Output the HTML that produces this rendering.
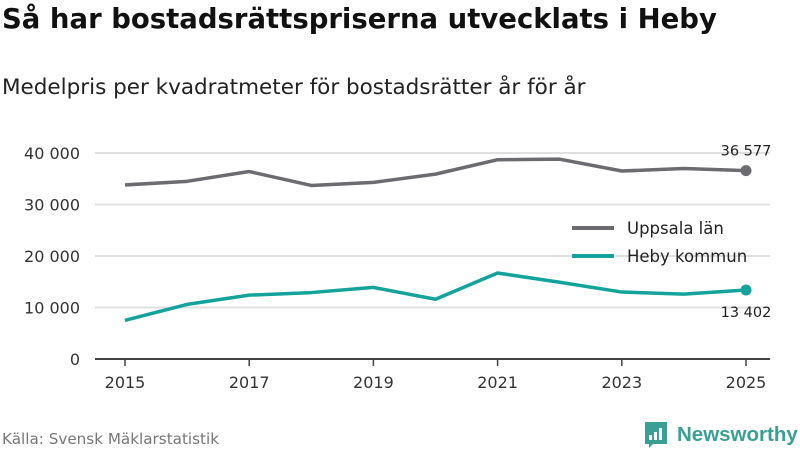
<!DOCTYPE html>
<html><head><meta charset="utf-8"><style>
body{margin:0;width:800px;height:450px;background:#fff;font-family:"DejaVu Sans","Liberation Sans",sans-serif;overflow:hidden;position:relative}
h1{position:absolute;left:2px;top:3px;margin:0;font-size:27.5px;font-weight:bold;color:#111}
.sub{position:absolute;left:2px;top:75px;font-size:21.5px;color:#222}
.src{position:absolute;left:2px;top:430px;font-size:15.2px;color:#777}
</style></head><body>
<h1>Så har bostadsrättspriserna utvecklats i Heby</h1>
<div class="sub">Medelpris per kvadratmeter för bostadsrätter år för år</div>
<div class="src">Källa: Svensk Mäklarstatistik</div>
<svg width="800" height="450" style="position:absolute;left:0;top:0" id="chart"></svg>
<script>
const years=[2015,2016,2017,2018,2019,2020,2021,2022,2023,2024,2025];
const uppsala=[33800,34500,36400,33700,34300,35900,38700,38800,36500,37000,36577];
const heby=[7500,10600,12400,12900,13900,11600,16700,14900,13000,12600,13402];
const yTicks=[0,10000,20000,30000,40000];
const xTicks=[2015,2017,2019,2021,2023,2025];
const ns="http://www.w3.org/2000/svg",svg=document.getElementById('chart');
const x=v=>125+(v-2015)*62.1, y=v=>359-v*0.00515;
const fmt=v=>v.toLocaleString('en').replace(/,/g,' ');
function mk(t,a,txt){const e=document.createElementNS(ns,t);for(const k in a)e.setAttribute(k,a[k]);if(txt!=null)e.textContent=txt;svg.appendChild(e);return e;}
yTicks.forEach(v=>{
 const l=mk('line',{x1:95,x2:770,y1:y(v),y2:y(v),stroke:v?'#e0e0e0':'#444','stroke-width':2});
 
 
 const t=mk('text',{x:80,y:y(v)+6,'text-anchor':'end','font-size':16,fill:'#333'},fmt(v));
 
 
});
xTicks.forEach(v=>{
 mk('line',{x1:x(v),x2:x(v),y1:359,y2:366,stroke:'#444','stroke-width':1.5});
 const t=mk('text',{x:x(v),y:388,'text-anchor':'middle','font-size':16,fill:'#333'},v);
 
 
});
function series(d,c,name){
 const p=mk('polyline',{points:d.map((v,i)=>x(years[i])+','+y(v)).join(' '),fill:'none',stroke:c,'stroke-width':3.5,'stroke-linejoin':'round'});
 
 
 const last=d.length-1;
 const dot=mk('circle',{cx:x(years[last]),cy:y(d[last]),r:5.5,fill:c});
 
 
}
series(uppsala,'#6b6b70','uppsala');
series(heby,'#14a39a','heby');
let t=mk('text',{x:746,y:y(uppsala[10])-15,'text-anchor':'middle','font-size':14.5,fill:'#222'},fmt(uppsala[10]));

t=mk('text',{x:746,y:y(heby[10])+27,'text-anchor':'middle','font-size':14.5,fill:'#222'},fmt(heby[10]));

[['Uppsala län','#6b6b70',228],['Heby kommun','#14a39a',256]].forEach(([n,c,yy])=>{
 const l=mk('line',{x1:572,x2:614,y1:yy,y2:yy,stroke:c,'stroke-width':4});
 
 const tt=mk('text',{x:627,y:yy+6,'font-size':16.5,fill:'#222'},n);
 
});
const g=mk('g',{});
g.innerHTML='<path d="M645 422h22v22h-14l-4 4v-4h-4z" fill="#3a9f95"/><rect x="649" y="435" width="3" height="5" fill="#fff"/><rect x="654" y="432" width="3" height="8" fill="#fff"/><rect x="659" y="428" width="3" height="12" fill="#fff"/><text x="677" y="441" font-size="20.5" fill="#3a9f95" font-family="Liberation Sans,sans-serif" font-weight="bold">Newsworthy</text>';
svg.appendChild(g);
</script>
</body></html>
